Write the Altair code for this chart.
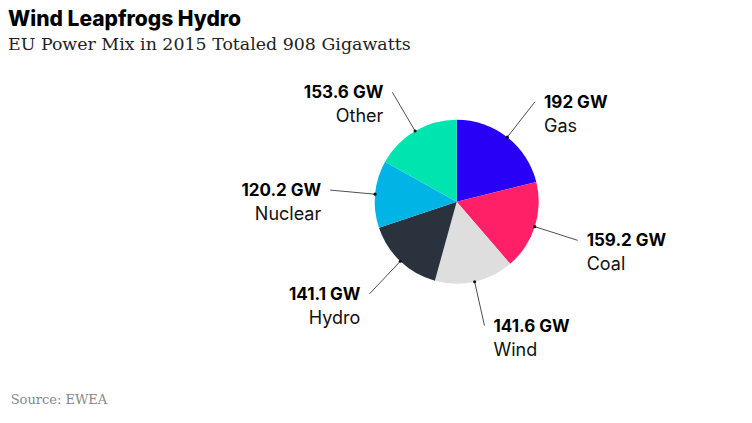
import altair as alt
import pandas as pd

# ---- data ----
categories = ["Gas", "Coal", "Wind", "Hydro", "Nuclear", "Other"]
values = [192, 159.2, 141.6, 141.1, 120.2, 153.6]
value_labels = ["192 GW", "159.2 GW", "141.6 GW", "141.1 GW", "120.2 GW", "153.6 GW"]
colors = ["#2800f5", "#ff2068", "#dedede", "#29323d", "#00b5e5", "#00e5b0"]
title_text = "Wind Leapfrogs Hydro"
subtitle_text = "EU Power Mix in 2015 Totaled 908 Gigawatts"
source_text = ["Source: EWEA"]

df = pd.DataFrame({"cat": categories, "value": values,
                   "label": value_labels, "idx": list(range(len(categories)))})

# ---- layout ----
PAD_TOP = 56
W, H = 736, 407 - PAD_TOP
CX, CY = 448.7, 137.7
R, R2 = 82, 127
DX, DY1, DY2 = 9, 6, 30

LABEL_FONT = "Inter"

xs = alt.Scale(domain=[0, W], nice=False, zero=False)
ys = alt.Scale(domain=[0, H], nice=False, zero=False, reverse=True)

base = alt.Chart(df)

geo = (
    base.transform_joinaggregate(total="sum(value)")
    .transform_window(cum="sum(value)", sort=[alt.SortField("idx")], frame=[None, 0])
    .transform_calculate(mid="(datum.cum - datum.value/2) / datum.total * 2 * PI")
    .transform_calculate(
        x1=f"{CX} + {R}*sin(datum.mid)",
        y1=f"{CY} - {R}*cos(datum.mid)",
        x2=f"{CX} + {R2}*sin(datum.mid)",
        y2=f"{CY} - {R2}*cos(datum.mid)",
        side="sin(datum.mid) >= 0 ? 'right' : 'left'",
    )
    .transform_calculate(
        tx=f"datum.side == 'right' ? datum.x2 + {DX} : datum.x2 - {DX}",
        ty1=f"datum.y2 + {DY1}",
        ty2=f"datum.y2 + {DY2}",
    )
)

arc = base.mark_arc(radius=R).encode(
    theta=alt.Theta("value:Q", stack=True),
    order=alt.Order("idx:Q"),
    color=alt.Color("cat:N", scale=alt.Scale(domain=categories, range=colors), legend=None),
    x=alt.value(CX),
    y=alt.value(CY),
)

rules = geo.mark_rule(color="#222", strokeWidth=0.8).encode(
    x=alt.X("x1:Q", scale=xs, axis=None),
    y=alt.Y("y1:Q", scale=ys, axis=None),
    x2="x2:Q",
    y2="y2:Q",
)

dots = geo.mark_circle(size=10, color="#111", opacity=1).encode(
    x=alt.X("x1:Q", scale=xs, axis=None),
    y=alt.Y("y1:Q", scale=ys, axis=None),
)


def text_layers(side, align):
    g = geo.transform_filter(f"datum.side == '{side}'")
    t1 = g.mark_text(align=align, baseline="alphabetic", font=LABEL_FONT,
                     fontWeight="bold", fontSize=17, color="#000").encode(
        x=alt.X("tx:Q", scale=xs, axis=None),
        y=alt.Y("ty1:Q", scale=ys, axis=None),
        text="label:N",
    )
    t2 = g.mark_text(align=align, baseline="alphabetic", font=LABEL_FONT,
                     fontWeight="normal", fontSize=18, color="#111").encode(
        x=alt.X("tx:Q", scale=xs, axis=None),
        y=alt.Y("ty2:Q", scale=ys, axis=None),
        text="cat:N",
    )
    return [t1, t2]


src = alt.Chart(pd.DataFrame({"t": source_text})).mark_text(
    align="left", baseline="alphabetic", font="DejaVu Serif", fontSize=13, color="#888"
).encode(x=alt.value(2.7), y=alt.value(H - 11), text="t:N")

chart = alt.layer(
    arc, rules, dots, *text_layers("right", "left"), *text_layers("left", "right"), src
).properties(
    width=W,
    height=H,
    autosize="none",
    padding={"top": PAD_TOP, "left": 0, "right": 0, "bottom": 0},
    title=alt.TitleParams(
        text=title_text,
        subtitle=subtitle_text,
        anchor="start",
        frame="group",
        font="Inter",
        fontSize=21,
        fontWeight=800,
        color="#000",
        subtitleFont="DejaVu Serif",
        subtitleFontSize=17.4,
        subtitleColor="#222",
        subtitlePadding=6,
        offset=11,
    ),
).configure_view(stroke=None)

chart.save("out.html", embed_options={"renderer": "svg", "actions": False})
